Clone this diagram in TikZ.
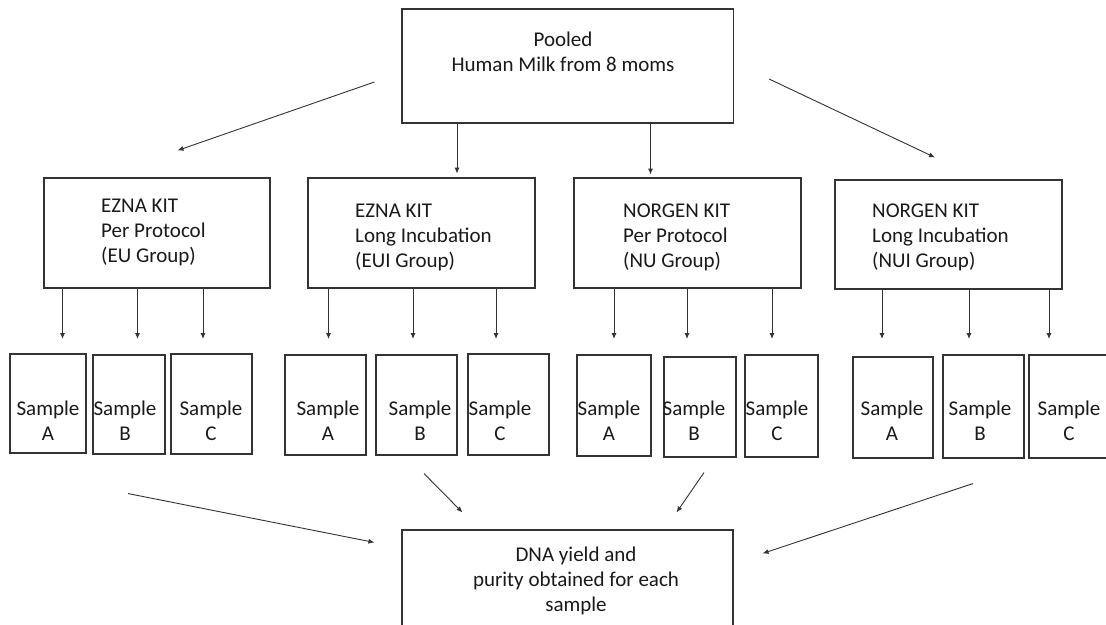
\documentclass[tikz,border=0pt]{standalone}
\usepackage{fontspec}
\setmainfont{Carlito}
\usetikzlibrary{arrows.meta}
\definecolor{boxline}{HTML}{333333}
\definecolor{ink}{HTML}{1A1A1A}
\tikzset{
  box/.style ={draw=boxline, line width=1.1pt, inner sep=0pt},
  txt/.style ={text=ink, inner sep=0pt, font=\fontsize{21}{25}\selectfont},
  arr/.style ={draw=boxline, line width=0.9pt, -{Latex[length=6pt,width=5pt]}},
}
% outer boxes: name/left/top/right/bottom (px, y pointing down)
\def\boxlist{pool/402/9/733.5/123, eu/44/178/270/288, eui/308/178/535/288,
             nu/574/178/801/288, nui/835/180/1062/289, dna/402/530/733/690}
% sample tubes: name/left/top/right/bottom/text x/letter
\def\samplelist{%
  euA/10/354/86/453/48/A, euB/93/355/165/454/125/B, euC/171/354/252/454/211/C,
  euiA/285/355/366/455/328/A, euiB/376/355/457/455/420/B, euiC/468/354/549/455/500/C,
  nuA/577/355/651/456/609/A, nuB/664/357/736/457/694/B, nuC/745/355/818/457/777/C,
  nuiA/853/357/933/458/892/A, nuiB/943/355/1024/458/980/B, nuiC/1029/355/1140/458/1069/C}
% one arrow per tube: kit box/x
\def\splitlist{eu/62.5, eu/137.5, eu/203, eui/328.5, eui/413, eui/496,
               nu/614, nu/687, nu/772, nui/882, nui/969, nui/1049}
\begin{document}
\begin{tikzpicture}[x=1pt,y=-1pt]
\path[use as bounding box, fill=white] (0,0) rectangle (1106,624);
\clip (0,0) rectangle (1106,624);
% --- boxes ---
\foreach \n/\xa/\ya/\xb/\yb in \boxlist
  {\node[box, minimum width={(\xb-\xa)*1pt}, minimum height={(\yb-\ya)*1pt}]
     (\n) at ({(\xa+\xb)/2},{(\ya+\yb)/2}) {};}
\foreach \n/\xa/\ya/\xb/\yb/\tx/\s in \samplelist
  {\node[box, minimum width={(\xb-\xa)*1pt}, minimum height={(\yb-\ya)*1pt}]
     (\n) at ({(\xa+\xb)/2},{(\ya+\yb)/2}) {};
   \node[txt, anchor=base, align=center] (\n-t) at (\tx,440) {Sample\\\s};}
% --- texts (anchored on the last line) ---
\node[txt, anchor=base, align=center] (poolT) at (563,71) {Pooled\\Human Milk from 8 moms};
\node[txt, anchor=base west, align=left] (euT) at (101,262) {EZNA KIT\\Per Protocol\\(EU Group)};
\node[txt, anchor=base west, align=left] (euiT) at (355,267) {EZNA KIT\\Long Incubation\\(EUI Group)};
\node[txt, anchor=base west, align=left] (nuT) at (623,267) {NORGEN KIT\\Per Protocol\\(NU Group)};
\node[txt, anchor=base west, align=left] (nuiT) at (872,267) {NORGEN KIT\\Long Incubation\\(NUI Group)};
\node[txt, anchor=base, align=center] (dnaT) at (576,611) {DNA yield and\\purity obtained for each\\sample};
% --- pooled milk to the four kits ---
\draw[arr] ([shift={(-27,16)}]pool.west) -- ([shift={(20.5,-27)}]eu.north);
\draw[arr] (pool.south -| 457,0) -- ++(0,50);
\draw[arr] (pool.south -| 650.5,0) -- ++(0,51);
\draw[arr] ([shift={(35,13)}]pool.east) -- ([shift={(-13.5,-22)}]nui.north);
% --- kits to tubes ---
\foreach \g/\x in \splitlist
  {\draw[arr] (\g.south -| \x,0) -- (\x,339);}
% --- tubes to the result ---
\draw[arr] ([shift={(-1,39)}]euB.south) -- ([shift={(-27,13)}]dna.north west);
\draw[arr] ([shift={(7.5,18)}]euiB.south) -- ([shift={(61,-17)}]dna.north west);
\draw[arr] ([shift={(4,15)}]nuB.south) -- ([shift={(-57,-17)}]dna.north east);
\draw[arr] ([shift={(-10.5,25)}]nuiB.south) -- ([shift={(29,24)}]dna.north east);
\end{tikzpicture}
\end{document}
